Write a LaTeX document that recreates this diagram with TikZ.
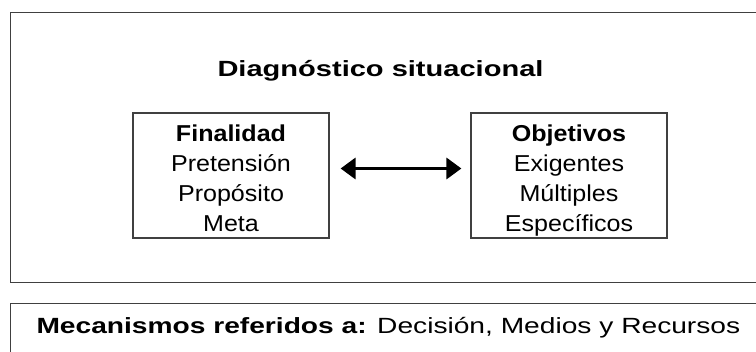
\documentclass[tikz,border=0pt]{standalone}
\usepackage{fontspec}
\setmainfont{Liberation Sans}[FakeStretch=1.09]
\newfontfamily\widefont{Liberation Sans}[FakeStretch=1.32]
\newfontfamily\footfont{Liberation Sans}[FakeStretch=1.28]
\usetikzlibrary{arrows.meta}

\begin{document}
\begin{tikzpicture}[x=1pt, y=-1pt,
	framebox/.style={draw=black!75, line width=1.2pt, inner sep=0pt},
	itembox/.style={framebox, minimum width=196pt, minimum height=125pt, align=center,
		font=\fontsize{23}{29.7}\selectfont, text height=111.1pt, text depth=0pt},
	headtext/.style={font=\widefont\bfseries\fontsize{22}{26}\selectfont},
	basetext/.style={font=\footfont\fontsize{22}{26}\selectfont},
	twoway/.style={{Triangle[length=15pt,width=21pt]}-{Triangle[length=15pt,width=21pt]}, line width=3.5pt}]
	\clip (0,0) rectangle (756,352);

	\node[framebox, anchor=north west, minimum width=770pt, minimum height=270pt] (diag) at (10,12) {};
	\node[headtext, anchor=base] (title) at (380.5,77) {Diagnóstico situacional};

	\node[itembox] (fin) at (231,175.5) {\textbf{Finalidad}\\Pretensión\\Propósito\\Meta};
	\node[itembox] (obj) at (569,175.5) {\textbf{Objetivos}\\Exigentes\\Múltiples\\Específicos};
	\draw[twoway, shorten <=11pt, shorten >=9pt] ([yshift=7pt]fin.east) -- ([yshift=7pt]obj.west);

	\node[framebox, anchor=north west, minimum width=770pt, minimum height=70pt] (mech) at (10,303) {};
	\node[basetext, anchor=base west] (mechtext) at (33,334) {\textbf{Mecanismos referidos a:} Decisión, Medios y Recursos};

\end{tikzpicture}
\end{document}
